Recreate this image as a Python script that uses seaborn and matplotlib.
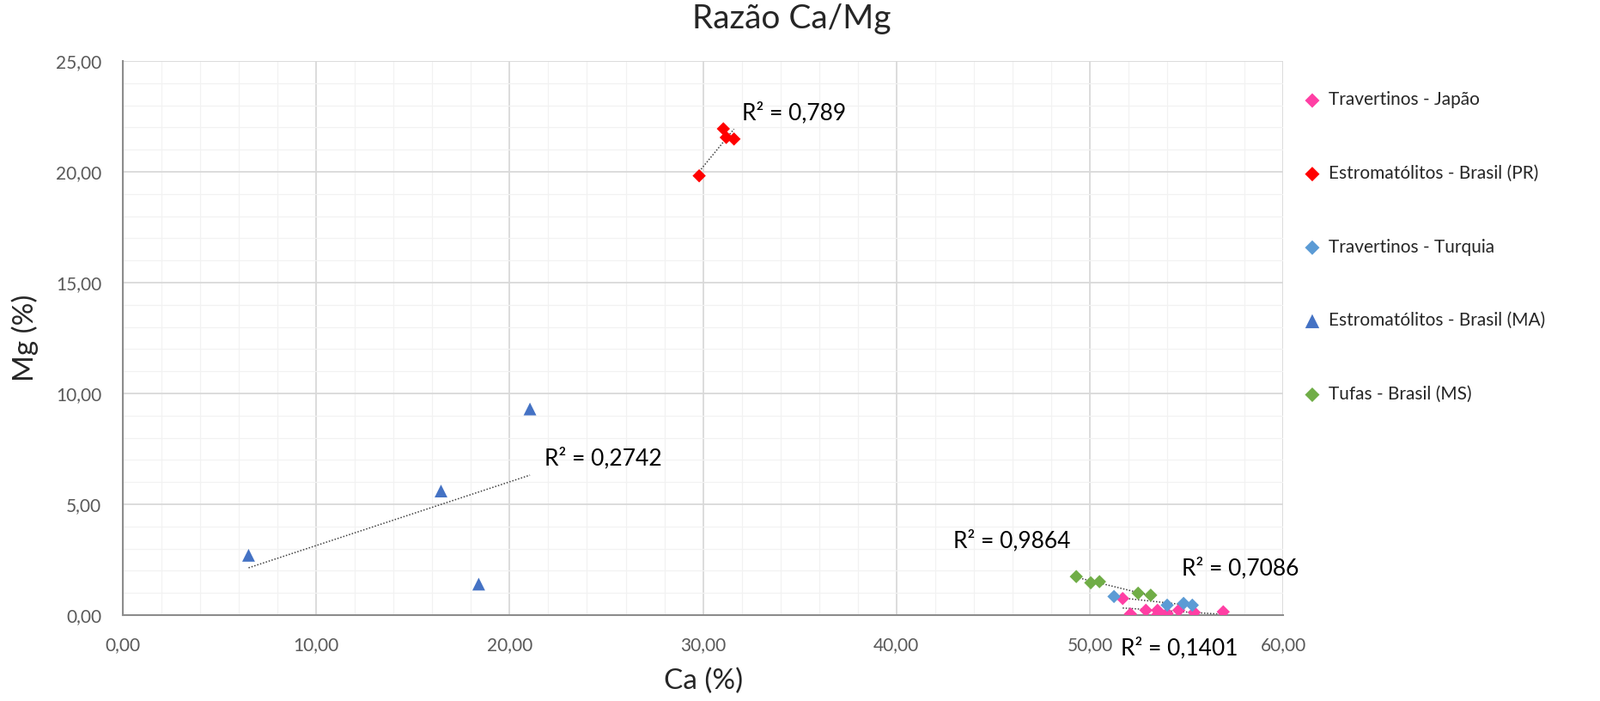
import matplotlib
matplotlib.use('Agg')
import matplotlib.pyplot as plt
import seaborn as sns
import numpy as np
import pandas as pd
from matplotlib.ticker import MultipleLocator, FuncFormatter

# Data (Ca %, Mg %)
japao_ca = [51.7, 52.1, 52.9, 53.5, 53.5, 54.0, 54.6, 55.4, 56.9]
japao_mg = [0.75, 0.05, 0.22, 0.22, 0.02, 0.08, 0.22, 0.12, 0.15]

pr_ca = [29.8, 31.05, 31.2, 31.6]
pr_mg = [19.82, 21.94, 21.55, 21.48]

turquia_ca = [51.25, 54.0, 54.85, 55.3]
turquia_mg = [0.84, 0.45, 0.53, 0.45]

ma_ca = [6.5, 16.45, 18.4, 21.05]
ma_mg = [2.7, 5.6, 1.4, 9.3]

tufas_ca = [49.3, 50.05, 50.5, 52.5, 53.15]
tufas_mg = [1.74, 1.46, 1.51, 0.99, 0.9]

series = [
    ('Travertinos - Japão', japao_ca, japao_mg, '#FF3FA4', 'D'),
    ('Estromatólitos - Brasil (PR)', pr_ca, pr_mg, '#FF0000', 'D'),
    ('Travertinos - Turquia', turquia_ca, turquia_mg, '#5B9BD5', 'D'),
    ('Estromatólitos - Brasil (MA)', ma_ca, ma_mg, '#4472C4', '^'),
    ('Tufas - Brasil (MS)', tufas_ca, tufas_mg, '#70AD47', 'D'),
]

# R² labels (text, x, y)
r2_labels = [
    ('R² = 0,789', 32.0, 22.65),
    ('R² = 0,2742', 21.8, 7.07),
    ('R² = 0,9864', 42.95, 3.34),
    ('R² = 0,7086', 54.75, 2.10),
    ('R² = 0,1401', 51.6, -1.5),
]

sns.set_style('white')
plt.rcParams['font.family'] = ['Lato', 'DejaVu Sans']

fig = plt.figure(figsize=(18.63, 8.16), dpi=100)
ax = fig.add_axes([0.0768, 0.1225, 0.7252, 0.7905])

for name, xs, ys, col, mk in series:
    df = pd.DataFrame({'Ca': xs, 'Mg': ys})
    sns.regplot(data=df, x='Ca', y='Mg', scatter=False, ci=None, truncate=True,
                ax=ax, line_kws=dict(color='#404040', lw=1.1, ls=(0, (1, 1.3))))
    size = 115 if mk == '^' else 62
    sns.scatterplot(data=df, x='Ca', y='Mg', marker=mk, color=col, s=size,
                    edgecolor='none', ax=ax, zorder=3, legend=False)
    ax.collections[-1].set_label(name)

for txt, x, y in r2_labels:
    ax.text(x, y, txt, fontsize=19, ha='left', va='center', color='black', clip_on=False)

ax.set_xlim(0, 60)
ax.set_ylim(0, 25)
ax.xaxis.set_major_locator(MultipleLocator(10))
ax.xaxis.set_minor_locator(MultipleLocator(2))
ax.yaxis.set_major_locator(MultipleLocator(5))
ax.yaxis.set_minor_locator(MultipleLocator(1))
fmt = FuncFormatter(lambda v, p: f'{v:.2f}'.replace('.', ','))
ax.xaxis.set_major_formatter(fmt)
ax.yaxis.set_major_formatter(fmt)

ax.grid(which='major', color='#D9D9D9', lw=1.3)
ax.grid(which='minor', color='#F2F2F2', lw=0.9)
ax.set_axisbelow(True)
ax.tick_params(which='both', length=0, labelsize=15, labelcolor='#595959')
ax.tick_params(axis='x', pad=18)
ax.tick_params(axis='y', pad=18)

for s in ['top', 'right']:
    ax.spines[s].set_visible(False)
for s in ['left', 'bottom']:
    ax.spines[s].set_color('#8C8C8C')
    ax.spines[s].set_linewidth(1.5)

ax.set_xlabel('Ca (%)', fontsize=24, labelpad=12)
ax.set_ylabel('Mg (%)', fontsize=24, labelpad=14)
fig.suptitle('Razão Ca/Mg', fontsize=28, x=0.495, y=0.995, va='top')

handles, labels = ax.get_legend_handles_labels()
leg = ax.legend(handles, labels, loc='center left', bbox_to_anchor=(1.005, 0.664),
                frameon=False, fontsize=15, labelspacing=3.15, handlelength=0.8,
                handletextpad=0.5, labelcolor='#262626', markerscale=1.1)

fig.savefig('out.png', dpi=100)
